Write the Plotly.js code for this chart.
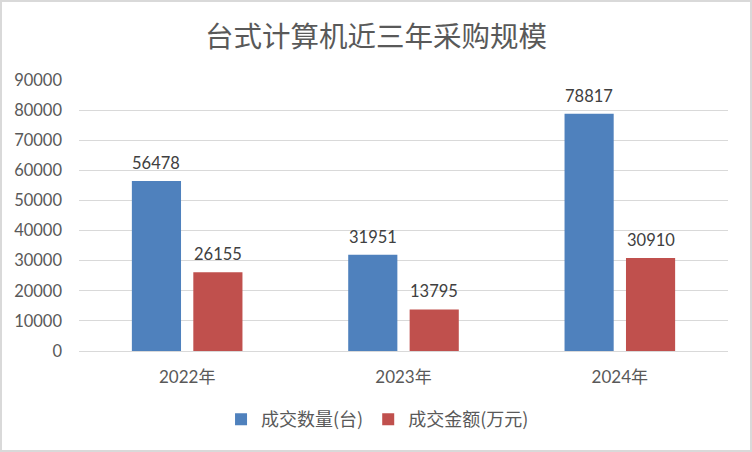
<!DOCTYPE html>
<html>
<head>
<meta charset="utf-8">
<script src="https://cdn.plot.ly/plotly-3.0.1.min.js"></script>
<style>
  html, body { margin: 0; padding: 0; background: #fff; }
  #chart { width: 748px; height: 448px; border: 2px solid #D9D9D9; }
</style>
</head>
<body>
<div id="chart"></div>
<script>
const categories = ['2022年', '2023年', '2024年'];
const quantity = [56478, 31951, 78817];
const amount = [26155, 13795, 30910];
const seriesNames = ['成交数量(台)', '成交金额(万元)'];
const yTicks = [0, 10000, 20000, 30000, 40000, 50000, 60000, 70000, 80000, 90000];

const fontFam = 'Lato, "Noto Sans CJK SC", sans-serif';
const textColor = '#595959';
const colors = ['#4F81BD', '#C0504D'];

const traces = [
  { type: 'bar', name: seriesNames[0], x: categories, y: quantity, marker: { color: colors[0] } },
  { type: 'bar', name: seriesNames[1], x: categories, y: amount, marker: { color: colors[1] } }
];

// data labels above bars, placed from the data values
const bargap = 0.432, bargroupgap = 0.2;
const offset = (1 - bargap) / 4; // category units from group centre to bar centre
const annotations = [];
[quantity, amount].forEach((vals, s) => {
  vals.forEach((v, i) => {
    annotations.push({
      x: i + (s === 0 ? -offset : offset), y: v, xref: 'x', yref: 'y',
      text: String(v), showarrow: false, yanchor: 'bottom', yshift: 6,
      font: { family: fontFam, size: 16.5, color: '#404040' }
    });
  });
});

const layout = {
  width: 748, height: 448,
  margin: { l: 77, r: 22, t: 78, b: 97 },
  paper_bgcolor: '#fff', plot_bgcolor: '#fff',
  font: { family: fontFam, color: textColor, size: 16 },
  title: {
    text: '台式计算机近三年采购规模',
    font: { family: '"Noto Sans CJK SC", sans-serif', size: 28.5, color: textColor },
    x: 0.5, xanchor: 'center', y: 0.922, yanchor: 'middle', yref: 'container'
  },
  barmode: 'group', bargap: bargap, bargroupgap: bargroupgap,
  xaxis: {
    type: 'category', showgrid: false, zeroline: false,
    showline: false, ticks: '', ticklabelstandoff: 14,
    tickfont: { family: fontFam, size: 17, color: textColor }
  },
  yaxis: {
    range: [0, 90000], tickvals: yTicks, ticktext: yTicks.map(String),
    showgrid: true, gridcolor: '#D9D9D9', gridwidth: 1,
    zeroline: true, zerolinecolor: '#D9D9D9', zerolinewidth: 1,
    showline: false, ticks: '', ticklabelstandoff: 16,
    tickfont: { family: fontFam, size: 16.5, color: textColor }
  },
  annotations: annotations,
  showlegend: true,
  legend: {
    orientation: 'h', x: 0.46, xanchor: 'center', y: -0.185, yanchor: 'top',
    font: { family: '"Noto Sans CJK SC", sans-serif', size: 18, color: textColor },
    itemwidth: 30, traceorder: 'normal'
  }
};

Plotly.newPlot('chart', traces, layout, { displayModeBar: false, staticPlot: true });
</script>
</body>
</html>
